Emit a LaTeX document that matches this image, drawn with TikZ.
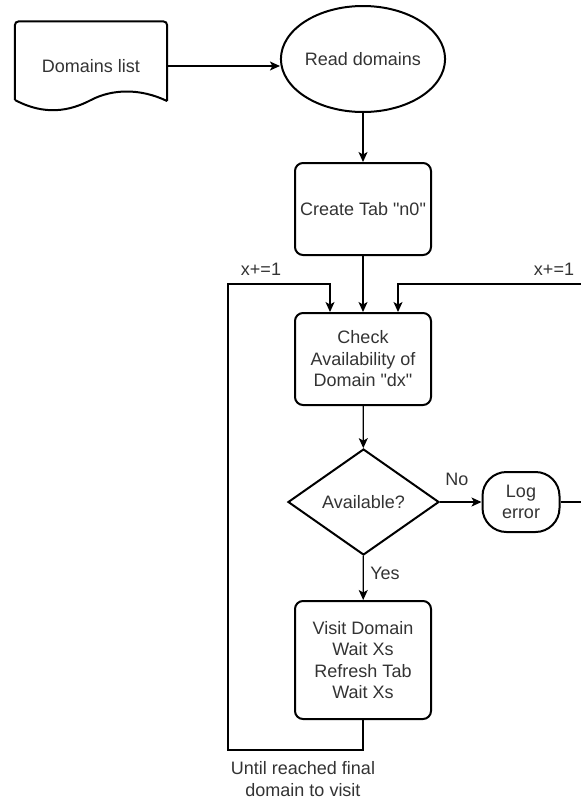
\documentclass[tikz,border=0pt]{standalone}
\usepackage{fontspec}
\newfontfamily\dfont{Liberation Sans}
\usetikzlibrary{shapes.geometric, positioning, arrows.meta, calc}

\begin{document}
\begin{tikzpicture}[
    x=1pt, y=-1pt,
    every node/.style={font=\dfont\fontsize{18}{21.5}\selectfont, text=black!80, align=center},
    box/.style={draw, line width=2pt, rounded corners=8pt, minimum width=136pt, inner sep=2pt},
    lbl/.style={draw=none, inner sep=0pt},
    conn/.style={line width=1.2pt, -{Stealth[length=10pt, width=9pt, inset=2.5pt]}},
    wire/.style={line width=1.2pt}
]
    \useasboundingbox (0,0) rectangle (581,801);
    \clip (0,0) rectangle (581,801);

    % Nodes
    \node[minimum width=152pt, minimum height=79pt] (doc) at (91,61) {};
    \draw[line width=2pt, rounded corners=4pt] (15,100) -- (doc.north west) -- (doc.north east) -- (167,101);
    \draw[line width=2pt] (15,100) .. controls (45,116) and (70,111) .. (91,100)
        .. controls (112,89) and (140,88) .. (167,101);
    \node[lbl] (docl) at (91,66) {Domains list};

    \node[draw, ellipse, line width=2pt, minimum width=138pt, minimum height=106pt, inner sep=0pt] (read) at (363,59) {Read domains};
    \node[box, minimum height=92pt] (create) at (363,209) {Create Tab "n0"};
    \node[box, minimum height=92pt] (check) at (363,359) {Check\\Availability of\\Domain "dx"};
    \node[draw, diamond, line width=2pt, minimum width=151pt, minimum height=106pt, inner sep=0pt] (avail) at (363.5,502) {Available?};
    \node[draw, line width=2pt, rounded corners=24pt, minimum width=77pt, minimum height=60pt, inner sep=0pt] (log) at (521,502) {Log\\error};
    \node[box, minimum height=118pt] (visit) at (363,660) {Visit Domain\\Wait Xs\\Refresh Tab\\Wait Xs};

    % Loop corners
    \coordinate (loopB) at (228,750);
    \coordinate (loopT) at (228,284);
    \coordinate (edgeR) at (584,284);

    % Edges (Main)
    \draw[conn] (docl.east -| doc.east) -- (docl.east -| read.west);
    \draw[conn] (read) -- (create);
    \draw[conn] (create) -- (check);
    \draw[conn] (check) -- (avail);
    \draw[conn] (avail) -- (log);
    \draw[conn] (avail) -- (visit);

    % Edges (Loops)
    \draw[conn] (visit.south) |- (loopB) -- (loopT) -| ([xshift=-33pt]check.north);
    \draw[conn] (log.east) -- (log.east -| edgeR) -- (edgeR) -| ([xshift=35pt]check.north);

    % Edge labels
    \node[lbl] (no) at (457,479) {No};
    \node[lbl] (yes) at (385,573) {Yes};
    \node[lbl] (incl) at (261,269) {x+=1};
    \node[lbl] (incr) at (554,269) {x+=1};
    \node[lbl] (until) at (303,779) {Until reached final\\domain to visit};
\end{tikzpicture}
\end{document}
